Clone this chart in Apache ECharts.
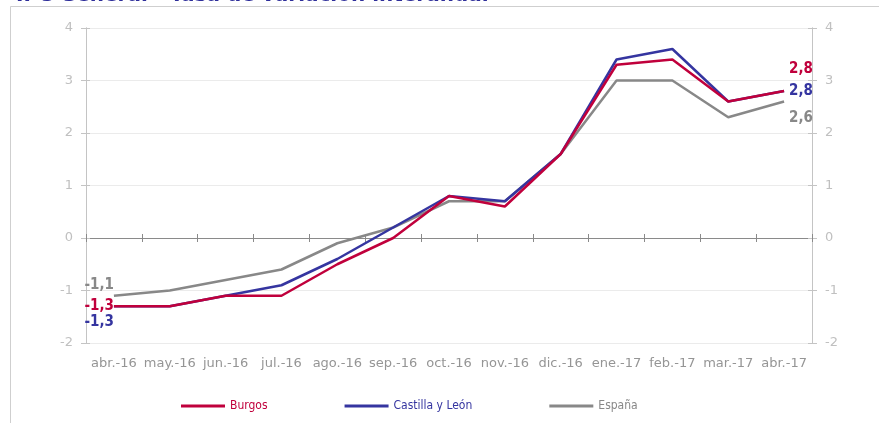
<!DOCTYPE html>
<html>
<head>
<meta charset="utf-8">
<script src="https://cdn.jsdelivr.net/npm/echarts@6/dist/echarts.min.js"></script>
<style>
html,body{margin:0;padding:0;background:#fff;}
#chart{width:879px;height:423px;}
</style>
</head>
<body>
<div id="chart"></div>
<script>
var categories = ['abr.-16','may.-16','jun.-16','jul.-16','ago.-16','sep.-16','oct.-16','nov.-16','dic.-16','ene.-17','feb.-17','mar.-17','abr.-17'];
var burgos   = [-1.3, -1.3, -1.1, -1.1, -0.5, 0.0, 0.8, 0.6, 1.6, 3.3, 3.4, 2.6, 2.8];
var castilla = [-1.3, -1.3, -1.1, -0.9, -0.4, 0.2, 0.8, 0.7, 1.6, 3.4, 3.6, 2.6, 2.8];
var espana   = [-1.1, -1.0, -0.8, -0.6, -0.1, 0.2, 0.7, 0.7, 1.6, 3.0, 3.0, 2.3, 2.6];
var seriesNames = ['Burgos', 'Castilla y León', 'España'];
var yTicks = [-2, -1, 0, 1, 2, 3, 4];

var colors = ['#C0003C', '#3535A0', '#888888'];
// label offsets for first and last points
var firstOffsets = [[0, 0], [0, 16], [0, -11]];
var lastOffsets = [[0, -22], [0, 0], [0, 17]];
var allData = [burgos, castilla, espana];

function fmt(v) { return v.toFixed(1).replace('.', ','); }

function buildData(arr, idx) {
  return arr.map(function (v, i) {
    var item = { value: v };
    if (i === 0 || i === arr.length - 1) {
      var first = i === 0;
      item.label = {
        show: true,
        position: first ? 'left' : 'right',
        distance: first ? 0 : 5,
        offset: first ? firstOffsets[idx] : lastOffsets[idx],
        formatter: function (p) { return fmt(p.value); },
        color: colors[idx],
        fontFamily: 'DejaVu Sans Condensed',
        fontWeight: 'bold',
        fontSize: 15
      };
    }
    return item;
  });
}

var chart = echarts.init(document.getElementById('chart'), null, { renderer: 'canvas' });

var yBase = {
  type: 'value', min: yTicks[0], max: yTicks[yTicks.length - 1], interval: 1,
  axisLine: { show: true, lineStyle: { color: '#c4c4c4', width: 1 } }
};

var option = {
  animation: false,
  backgroundColor: '#ffffff',
  title: {
    text: 'IPC General - Tasa de variación interanual',
    left: 11, top: -19,
    textStyle: { color: '#2E2E9A', fontFamily: 'DejaVu Sans', fontWeight: 'bold', fontSize: 20 }
  },
  graphic: [{
    type: 'rect', shape: { x: 10.5, y: 6.5, width: 900, height: 500 },
    style: { fill: 'none', stroke: '#cfcfcf', lineWidth: 1 }, silent: true, z: -1
  }],
  grid: { left: 86, right: 67, top: 28, bottom: 80, containLabel: false },
  legend: {
    left: 181, top: 400, padding: 0,
    itemWidth: 44, itemHeight: 12, itemGap: 77,
    icon: 'path://M0,5 L44,5 L44,8 L0,8 Z',
    textStyle: { fontFamily: 'DejaVu Sans Condensed', fontSize: 12 },
    data: seriesNames.map(function (n, i) { return { name: n, textStyle: { color: colors[i] } }; })
  },
  xAxis: [
    {
      type: 'category', data: categories, boundaryGap: true, position: 'bottom',
      axisLine: { show: false, onZero: false },
      axisTick: { show: false },
      axisLabel: { color: '#959595', fontFamily: 'DejaVu Sans', fontSize: 13, margin: 14, interval: 0 },
      splitLine: { show: false }
    },
    {
      type: 'category', data: categories, boundaryGap: true, position: 'bottom',
      axisLine: { show: true, onZero: true, lineStyle: { color: '#8a8a8a', width: 1 } },
      axisTick: { show: true, inside: true, length: 4, interval: 0, lineStyle: { color: '#8a8a8a' } },
      axisLabel: { show: false }, splitLine: { show: false }
    },
    {
      type: 'category', data: categories, boundaryGap: true, position: 'bottom',
      axisLine: { show: true, onZero: true, lineStyle: { color: '#8a8a8a', width: 1 } },
      axisTick: { show: true, inside: false, length: 4, interval: 0, lineStyle: { color: '#8a8a8a' } },
      axisLabel: { show: false }, splitLine: { show: false }
    }
  ],
  yAxis: [
    Object.assign({}, yBase, {
      position: 'left',
      axisTick: { show: true, inside: false, length: 5, lineStyle: { color: '#c4c4c4' } },
      axisLabel: { color: '#c0c0c0', fontFamily: 'DejaVu Sans', fontSize: 13, margin: 13 },
      splitLine: { show: true, lineStyle: { color: '#ebebeb', width: 1 } }
    }),
    Object.assign({}, yBase, {
      position: 'right',
      axisTick: { show: true, inside: false, length: 5, lineStyle: { color: '#c4c4c4' } },
      axisLabel: { color: '#c0c0c0', fontFamily: 'DejaVu Sans', fontSize: 13, margin: 13 },
      splitLine: { show: false }
    }),
    Object.assign({}, yBase, {
      position: 'left',
      axisTick: { show: true, inside: true, length: 4, lineStyle: { color: '#c4c4c4' } },
      axisLabel: { show: false }, splitLine: { show: false }
    }),
    Object.assign({}, yBase, {
      position: 'right',
      axisTick: { show: true, inside: true, length: 4, lineStyle: { color: '#c4c4c4' } },
      axisLabel: { show: false }, splitLine: { show: false }
    })
  ],
  series: seriesNames.map(function (n, i) {
    return {
      name: n, type: 'line', xAxisIndex: 0, yAxisIndex: 0,
      data: buildData(allData[i], i),
      symbol: 'circle', symbolSize: 0.01, showSymbol: true, showAllSymbol: true,
      lineStyle: { color: colors[i], width: 2.5 },
      itemStyle: { color: colors[i] },
      z: 10 - i
    };
  })
};

chart.setOption(option);
</script>
</body>
</html>
